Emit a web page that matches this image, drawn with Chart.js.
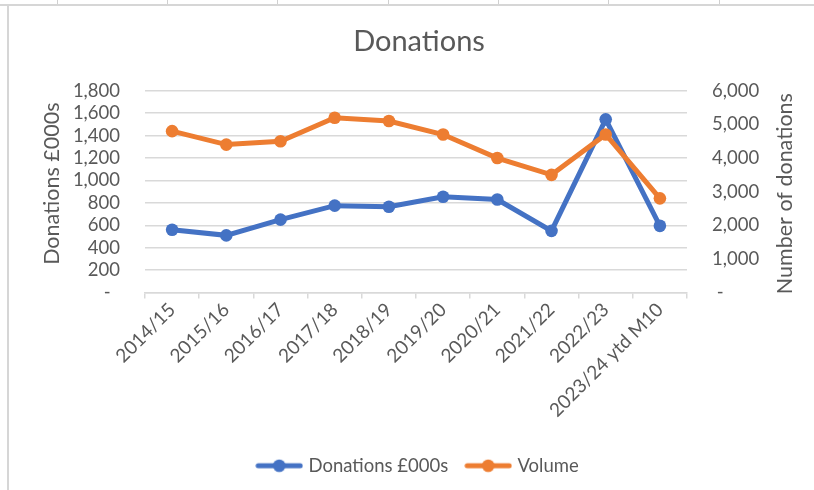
<!DOCTYPE html>
<html>
<head>
<meta charset="utf-8">
<script src="https://cdn.jsdelivr.net/npm/chart.js@4"></script>
<style>
  html, body { margin: 0; padding: 0; background: #fff; }
  #wrap { width: 814px; height: 490px; }
</style>
</head>
<body>
<div id="wrap"><canvas id="c" width="814" height="490"></canvas></div>
<script>
const categories = ['2014/15','2015/16','2016/17','2017/18','2018/19','2019/20','2020/21','2021/22','2022/23','2023/24 ytd M10'];
const donations = [560, 510, 650, 775, 765, 855, 830, 550, 1545, 595];
const volume = [4800, 4400, 4500, 5200, 5100, 4700, 4000, 3500, 4700, 2800];
const seriesNames = ['Donations £000s', 'Volume'];
const seriesColors = ['#4472C4', '#ED7D31'];
const axisTitles = ['Donations £000s', 'Number of donations'];

const FONT = 'Lato, "Open Sans", sans-serif';
const TXT = '#595959';
const GRID = '#d9d9d9';

function legendIcon(color) {
  const c = document.createElement('canvas');
  c.width = 48; c.height = 14;
  const g = c.getContext('2d');
  g.strokeStyle = color; g.lineWidth = 5; g.lineCap = 'round';
  g.beginPath(); g.moveTo(3, 7); g.lineTo(45, 7); g.stroke();
  g.fillStyle = color;
  g.beginPath(); g.arc(24, 7, 6.3, 0, Math.PI * 2); g.fill();
  return c;
}

const framePlugin = {
  id: 'frame',
  beforeDraw(chart) {
    const ctx = chart.ctx;
    ctx.save();
    ctx.fillStyle = '#fff';
    ctx.fillRect(0, 0, chart.width, chart.height);
    ctx.strokeStyle = '#d0d0d0';
    ctx.lineWidth = 1;
    [57, 167, 277, 388, 498, 608, 719].forEach(x => {
      ctx.beginPath(); ctx.moveTo(x + 0.5, 0); ctx.lineTo(x + 0.5, 4); ctx.stroke();
    });
    ctx.strokeStyle = '#d6d6d6';
    ctx.lineWidth = 2;
    ctx.beginPath(); ctx.moveTo(0, 5); ctx.lineTo(chart.width, 5); ctx.stroke();
    ctx.beginPath(); ctx.moveTo(8, 6); ctx.lineTo(8, chart.height); ctx.stroke();
    ctx.restore();
  },
  afterDraw(chart) {
    const ctx = chart.ctx;
    const ca = chart.chartArea;
    ctx.save();
    ctx.fillStyle = TXT;
    ctx.font = '21.5px ' + FONT;
    ctx.textAlign = 'center';
    ctx.textBaseline = 'middle';
    const yl = chart.scales.y, yr = chart.scales.y1;
    ctx.save();
    ctx.translate(yl.left + 12, (ca.top + ca.bottom) / 2 - 8);
    ctx.rotate(-Math.PI / 2);
    ctx.fillText(axisTitles[0], 0, 0);
    ctx.restore();
    ctx.save();
    ctx.translate(yr.right - 13, (ca.top + ca.bottom) / 2 + 2);
    ctx.rotate(-Math.PI / 2);
    ctx.fillText(axisTitles[1], 0, 0);
    ctx.restore();
    ctx.restore();
  }
};

new Chart(document.getElementById('c'), {
  type: 'line',
  data: {
    labels: categories,
    datasets: [
      {
        label: seriesNames[0], data: donations, yAxisID: 'y',
        borderColor: seriesColors[0], backgroundColor: seriesColors[0],
        borderWidth: 5, pointRadius: 6.3, pointHoverRadius: 6.3,
        pointBorderWidth: 0, tension: 0, order: 1
      },
      {
        label: seriesNames[1], data: volume, yAxisID: 'y1',
        borderColor: seriesColors[1], backgroundColor: seriesColors[1],
        borderWidth: 5, pointRadius: 6.3, pointHoverRadius: 6.3,
        pointBorderWidth: 0, tension: 0, order: 0
      }
    ]
  },
  options: {
    responsive: false,
    animation: false,
    layout: { padding: { left: 40, right: 16, top: 0, bottom: 5 } },
    plugins: {
      title: {
        display: true, text: 'Donations',
        font: { family: FONT, size: 29, weight: 'normal' }, color: TXT,
        padding: { top: 24, bottom: 32 }
      },
      legend: {
        position: 'bottom',
        labels: {
          usePointStyle: true, pointStyleWidth: 40, boxHeight: 14,
          font: { family: FONT, size: 18.5 }, color: TXT, padding: 20,
          generateLabels(chart) {
            return seriesNames.map((n, i) => ({
              text: n, pointStyle: legendIcon(seriesColors[i]),
              fillStyle: seriesColors[i], strokeStyle: seriesColors[i],
              lineWidth: 0, hidden: false, datasetIndex: i, fontColor: TXT
            }));
          }
        }
      },
      tooltip: { enabled: false }
    },
    scales: {
      x: {
        type: 'category', offset: true,
        grid: { offset: true, drawOnChartArea: false, drawTicks: true, tickLength: 6, color: GRID, lineWidth: 1.5 },
        border: { display: true, color: GRID, width: 1.5 },
        ticks: { minRotation: 45, maxRotation: 45, autoSkip: false, font: { family: FONT, size: 19 }, color: TXT, padding: 0 },
        afterFit(s) { s.height = 144; }
      },
      y: {
        position: 'left', min: 0, max: 1800,
        ticks: {
          stepSize: 200, autoSkip: false, padding: 25, font: { family: FONT, size: 18.5 }, color: TXT,
          callback: v => v === 0 ? '-  ' : v.toLocaleString('en-GB')
        },
        grid: { color: GRID, lineWidth: 1.5, drawTicks: false },
        border: { display: false },
        afterFit(s) { s.width = 105; }
      },
      y1: {
        position: 'right', min: 0, max: 6000,
        ticks: {
          stepSize: 1000, autoSkip: false, padding: 25, font: { family: FONT, size: 18.5 }, color: TXT,
          callback: v => v === 0 ? ' -' : v.toLocaleString('en-GB')
        },
        grid: { drawOnChartArea: false, drawTicks: false },
        border: { display: false },
        afterFit(s) { s.width = 111; }
      }
    }
  },
  plugins: [framePlugin]
});
</script>
</body>
</html>
